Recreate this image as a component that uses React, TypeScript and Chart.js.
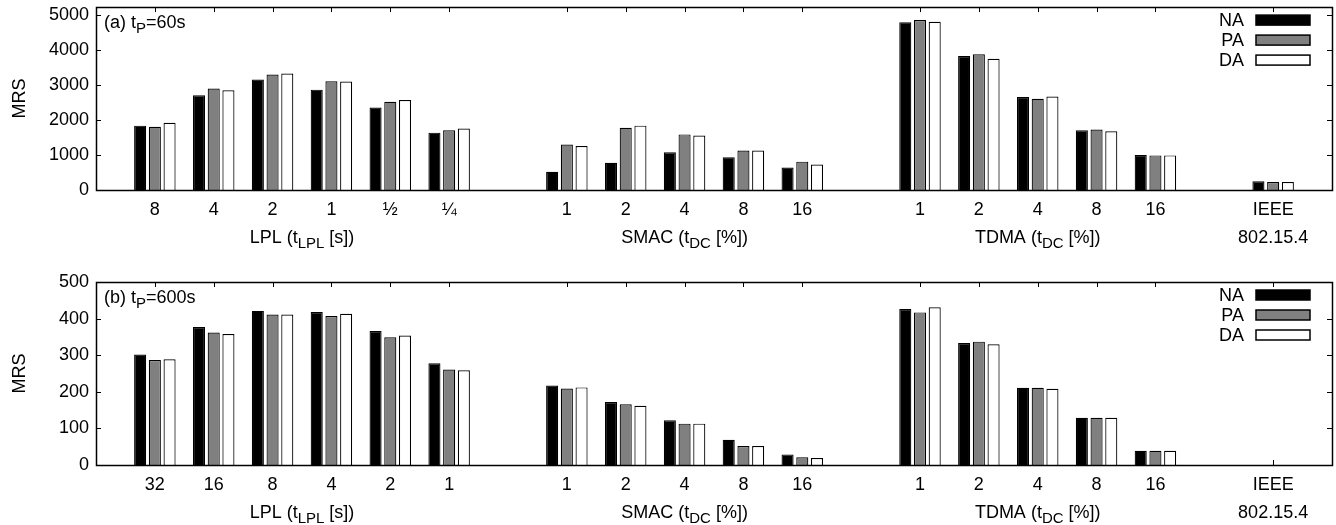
import React, { useEffect, useRef } from 'react';
import { Chart, registerables } from 'chart.js';

Chart.register(...registerables);

const FONT = "'Liberation Sans', Arial, Helvetica, sans-serif";
Chart.defaults.font.family = FONT;

// Category tick labels ('' = spacer slot between families)
const categoriesA = ['8', '4', '2', '1', '½', '¼', '', '1', '2', '4', '8', '16', '', '1', '2', '4', '8', '16', '', 'IEEE'];
const categoriesB = ['32', '16', '8', '4', '2', '1', '', '1', '2', '4', '8', '16', '', '1', '2', '4', '8', '16', '', 'IEEE'];

const seriesNames = ['NA', 'PA', 'DA'];
const seriesColors = ['#000000', '#808080', '#ffffff'];

// y-axis tick values
const yTicksA = [0, 1000, 2000, 3000, 4000, 5000];
const yTicksB = [0, 100, 200, 300, 400, 500];

// (a) tP = 60s
const naA = [1840, 2710, 3160, 2870, 2360, 1640, null, 520, 780, 1080, 940, 640, null, 4800, 3830, 2660, 1710, 1000, null, 250];
const paA = [1810, 2900, 3300, 3110, 2520, 1710, null, 1300, 1780, 1590, 1130, 810, null, 4860, 3880, 2610, 1730, 990, null, 230];
const daA = [1920, 2850, 3330, 3100, 2570, 1760, null, 1260, 1840, 1560, 1130, 730, null, 4810, 3750, 2670, 1680, 990, null, 230];

// (b) tP = 600s
const naB = [302, 377, 421, 418, 366, 278, null, 217, 172, 122, 69, 29, null, 426, 333, 211, 129, 39, null, null];
const paB = [287, 362, 411, 407, 349, 261, null, 209, 166, 113, 52, 21, null, 417, 337, 211, 129, 39, null, null];
const daB = [289, 358, 411, 413, 354, 259, null, 212, 162, 113, 52, 19, null, 431, 330, 208, 129, 39, null, null];

// Family labels: [first index, last index], text segments (text, isSubscript)
const groupRanges = [[0, 5], [7, 11], [13, 17], [19, 19]];
const groupTexts: [string, boolean][][] = [
  [['LPL (t', false], ['LPL', true], [' [s])', false]],
  [['SMAC (t', false], ['DC', true], [' [%])', false]],
  [['TDMA (t', false], ['DC', true], [' [%])', false]],
  [['802.15.4', false]],
];

const titleA: [string, boolean][] = [['(a) t', false], ['P', true], ['=60s', false]];
const titleB: [string, boolean][] = [['(b) t', false], ['P', true], ['=600s', false]];
const yTitle = 'MRS';

const MAIN = 18;
const SUB = 15;

function drawRich(ctx: CanvasRenderingContext2D, parts: [string, boolean][], x: number, y: number, align: 'left' | 'center') {
  let w = 0;
  for (const [t, s] of parts) {
    ctx.font = `${s ? SUB : MAIN}px ${FONT}`;
    w += ctx.measureText(t).width;
  }
  let cx = align === 'center' ? x - w / 2 : x;
  ctx.textAlign = 'left';
  ctx.textBaseline = 'alphabetic';
  for (const [t, s] of parts) {
    ctx.font = `${s ? SUB : MAIN}px ${FONT}`;
    ctx.fillText(t, cx, s ? y + 5 : y);
    cx += ctx.measureText(t).width;
  }
}

interface PanelProps {
  labels: string[];
  series: (number | null)[][];
  yMax: number;
  yTicks: number[];
  title: [string, boolean][];
  top: number;
  height: number;
  padTop: number;
  xHeight: number;
}

function Panel({ labels, series, yMax, yTicks, title, top, height, padTop, xHeight }: PanelProps) {
  const ref = useRef<HTMLCanvasElement>(null);
  useEffect(() => {
    const padArr = (a: (number | null)[]) => [null, ...a, null];
    const lbls = ['', ...labels, ''];
    const TICK = 5;

    const framePlugin = {
      id: 'frame',
      beforeDatasetsDraw(chart: any) {
        const { ctx, chartArea } = chart;
        const xs = chart.scales.x;
        ctx.save();
        ctx.strokeStyle = '#000';
        ctx.lineWidth = 1;
        lbls.forEach((l, i) => {
          if (!l) return;
          const px = Math.round(xs.getPixelForValue(i)) + 0.5;
          ctx.beginPath();
          ctx.moveTo(px, chartArea.bottom);
          ctx.lineTo(px, chartArea.bottom - TICK);
          ctx.stroke();
        });
        ctx.restore();
      },
      afterDatasetsDraw(chart: any) {
        const { ctx, chartArea } = chart;
        const { left, right, top: t, bottom } = chartArea;
        const xs = chart.scales.x;
        const ys = chart.scales.y;
        ctx.save();
        ctx.strokeStyle = '#000';
        ctx.fillStyle = '#000';
        ctx.lineWidth = 1;
        // top ticks
        lbls.forEach((l, i) => {
          if (!l) return;
          const px = Math.round(xs.getPixelForValue(i)) + 0.5;
          ctx.beginPath();
          ctx.moveTo(px, t);
          ctx.lineTo(px, t + TICK);
          ctx.stroke();
        });
        // y ticks left & right
        ys.ticks.forEach((tk: any) => {
          const py = Math.round(ys.getPixelForValue(tk.value)) + 0.5;
          ctx.beginPath();
          ctx.moveTo(left, py);
          ctx.lineTo(left + TICK, py);
          ctx.moveTo(right, py);
          ctx.lineTo(right - TICK, py);
          ctx.stroke();
        });
        // frame
        ctx.lineWidth = 1.5;
        ctx.strokeRect(Math.round(left) + 0.5, Math.round(t) + 0.5, Math.round(right - left), Math.round(bottom - t));
        // y title
        ctx.save();
        ctx.font = `${MAIN}px ${FONT}`;
        ctx.textAlign = 'center';
        ctx.textBaseline = 'middle';
        ctx.translate(20, (t + bottom) / 2);
        ctx.rotate(-Math.PI / 2);
        ctx.fillText(yTitle, 0, 0);
        ctx.restore();
        // panel title
        drawRich(ctx, title, left + 8, t + 21, 'left');
        // legend
        seriesNames.forEach((name, i) => {
          const cy = t + 13 + 20 * i;
          ctx.font = `${MAIN}px ${FONT}`;
          ctx.textAlign = 'right';
          ctx.textBaseline = 'middle';
          ctx.fillStyle = '#000';
          ctx.fillText(name, right - 88, cy + 1);
          ctx.fillStyle = seriesColors[i];
          ctx.fillRect(right - 76, cy - 5, 54, 10);
          ctx.lineWidth = 1.5;
          ctx.strokeRect(right - 76, cy - 5, 54, 10);
        });
        ctx.fillStyle = '#000';
        // family labels
        groupRanges.forEach(([a, b], gi) => {
          const cx = (xs.getPixelForValue(a + 1) + xs.getPixelForValue(b + 1)) / 2;
          drawRich(ctx, groupTexts[gi], cx, bottom + 53, 'center');
        });
        ctx.restore();
      },
    };

    const chart = new Chart(ref.current as HTMLCanvasElement, {
      type: 'bar',
      data: {
        labels: lbls,
        datasets: series.map((s, i) => ({
          label: seriesNames[i],
          data: padArr(s),
          backgroundColor: seriesColors[i],
          borderColor: '#000',
          borderWidth: 1.2,
          categoryPercentage: 0.75,
          barPercentage: 0.82,
        })),
      },
      options: {
        responsive: false,
        animation: false,
        layout: { padding: { top: padTop, right: 4, left: 0, bottom: 0 } },
        plugins: { legend: { display: false }, tooltip: { enabled: false }, title: { display: false } },
        scales: {
          x: {
            offset: false,
            grid: { display: false, drawTicks: false },
            border: { display: false },
            ticks: {
              autoSkip: false,
              maxRotation: 0,
              minRotation: 0,
              padding: 0,
              color: '#000',
              font: { family: FONT, size: MAIN, lineHeight: 40 / 18 },
            },
            afterFit: (s: any) => { s.height = xHeight; },
          },
          y: {
            min: 0,
            max: yMax,
            grid: { display: false, drawTicks: false },
            border: { display: false },
            afterBuildTicks: (s: any) => { s.ticks = yTicks.map((v) => ({ value: v })); },
            ticks: {
              padding: 7,
              color: '#000',
              font: { family: FONT, size: MAIN, lineHeight: 0.01 },
              callback: (v: any) => String(v),
            },
            afterFit: (s: any) => { s.width = 96; },
          },
        },
      } as any,
      plugins: [framePlugin],
    });
    return () => chart.destroy();
  }, []);
  return (
    <canvas
      ref={ref}
      width={1336}
      height={height}
      style={{ position: 'absolute', left: 0, top, display: 'block' }}
    />
  );
}

export default function App() {
  return (
    <div style={{ position: 'absolute', left: 0, top: 0, width: 1336, height: 525, background: '#fff', overflow: 'hidden' }}>
      <Panel labels={categoriesA} series={[naA, paA, daA]} yMax={5230} yTicks={yTicksA} title={titleA} top={0} height={262} padTop={7} xHeight={72} />
      <Panel labels={categoriesB} series={[naB, paB, daB]} yMax={500} yTicks={yTicksB} title={titleB} top={262} height={263} padTop={20} xHeight={60} />
    </div>
  );
}
